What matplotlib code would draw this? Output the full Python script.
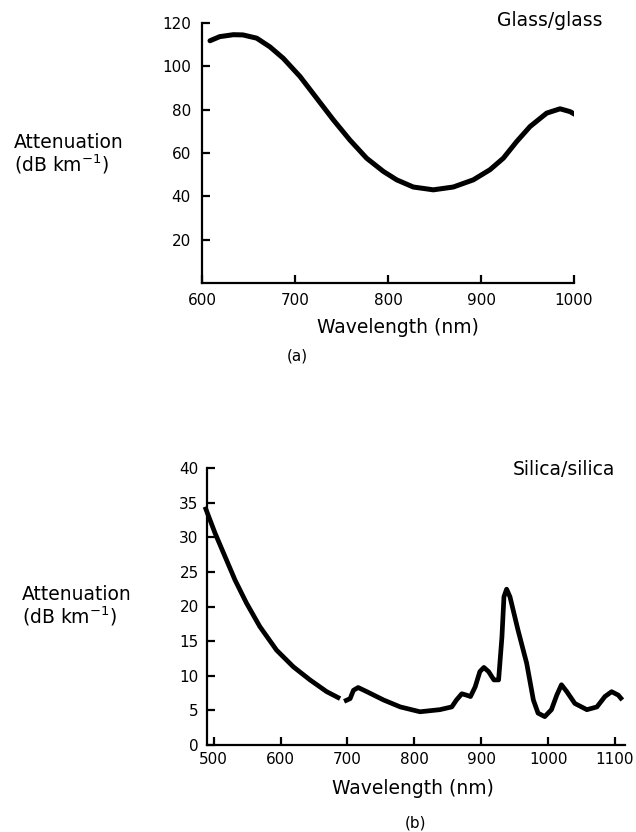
import matplotlib
matplotlib.use("Agg")
import matplotlib.pyplot as plt

W, H = 636, 832

# ---------------- data ----------------
# Panel (a): Glass/glass fibre
glass_wl = [608.6, 619, 633.7, 644, 658.8, 673, 687.4, 705.4, 723.3, 741.2, 759,
            777, 795, 809.4, 827.2, 848.7, 870.2, 891.7, 909.7, 924, 938.4,
            952.7, 970.6, 985, 995.7, 1002]
glass_att = [111.8, 113.7, 114.6, 114.5, 113, 109, 103.7, 95.3, 85.3, 75.3, 66,
             57.6, 51.5, 47.6, 44.3, 43, 44.3, 47.6, 52.3, 57.6, 65.3,
             72.2, 78.4, 80.4, 79.1, 77.6]
glass_xticks = [600, 700, 800, 900, 1000]
glass_yticks = [20, 40, 60, 80, 100, 120]

# Panel (b): Silica/silica fibre (two segments, small gap near 690 nm)
silica_wl_1 = [487, 502, 517, 532, 549, 569, 594, 619, 644, 669, 689]
silica_att_1 = [34.4, 30.6, 27.2, 23.8, 20.5, 17.1, 13.7, 11.3, 9.4, 7.7, 6.7]
silica_wl_2 = [695, 704, 709, 716, 729, 754, 779, 808.5, 838, 856, 863, 871,
               878, 884, 891, 898, 904, 911, 919, 926, 931, 934, 938, 943, 955,
               968, 978, 985, 995, 1005, 1013, 1020, 1028, 1040, 1058, 1073,
               1085, 1095, 1105, 1111]
silica_att_2 = [6.3, 6.7, 7.9, 8.3, 7.7, 6.5, 5.5, 4.8, 5.1, 5.5, 6.5, 7.4,
                7.2, 7.0, 8.4, 10.6, 11.2, 10.6, 9.4, 9.4, 15.6, 21.4, 22.5, 21.4,
                16.6, 11.8, 6.5, 4.6, 4.1, 5.1, 7.2, 8.7, 7.7, 6.0, 5.1, 5.5,
                7.0, 7.7, 7.2, 6.5]
silica_xticks = [500, 600, 700, 800, 900, 1000, 1100]
silica_yticks = [0, 5, 10, 15, 20, 25, 30, 35, 40]

# ---------------- figure ----------------
plt.rcParams['font.family'] = ['DejaVu Sans']
fig = plt.figure(figsize=(W / 100, H / 100), dpi=100)


def rect(x0, y0, x1, y1):
    return [x0 / W, 1 - y1 / H, (x1 - x0) / W, (y1 - y0) / H]


def fx(x):
    return x / W


def fy(y):
    return 1 - y / H


def style(ax, xpad, ypad):
    for s in ['top', 'right']:
        ax.spines[s].set_visible(False)
    for s in ['left', 'bottom']:
        ax.spines[s].set_linewidth(1.6)
        ax.spines[s].set_color('black')
    ax.tick_params(direction='in', length=6, width=1.6, labelsize=11,
                   colors='black')
    ax.tick_params(axis='x', pad=xpad)
    ax.tick_params(axis='y', pad=ypad)
    ax.patch.set_alpha(0)


LABEL_FS = 13.5

# Panel (a)
axa = fig.add_axes(rect(202, 23, 574, 283))
axa.plot(glass_wl, glass_att, color='black', lw=3.6, solid_capstyle='round',
         solid_joinstyle='round')
axa.set_xlim(600, 1000)
axa.set_ylim(0, 120)
axa.set_xticks(glass_xticks)
axa.set_yticks(glass_yticks)
style(axa, xpad=7, ypad=8)
fig.text(fx(398), fy(328), 'Wavelength (nm)', fontsize=LABEL_FS,
         ha='center', va='center')
fig.text(fx(602), fy(20), 'Glass/glass', ha='right', va='center',
         fontsize=LABEL_FS)

fig.text(fx(14), fy(142), 'Attenuation', fontsize=LABEL_FS, va='center',
         ha='left')
fig.text(fx(14), fy(164), '(dB km$^{-1}$)', fontsize=LABEL_FS, va='center',
         ha='left')
fig.text(fx(297), fy(356), '(a)', fontsize=11, ha='center', va='center')

# Panel (b)
axb = fig.add_axes(rect(207, 468, 625, 745))
axb.plot(silica_wl_1, silica_att_1, color='black', lw=3.4,
         solid_capstyle='butt', solid_joinstyle='round', clip_on=False)
axb.plot(silica_wl_2, silica_att_2, color='black', lw=3.4,
         solid_capstyle='butt', solid_joinstyle='round', clip_on=False)
axb.set_xlim(490, 1115)
axb.set_ylim(0, 40)
axb.set_xticks(silica_xticks)
axb.set_yticks(silica_yticks)
style(axb, xpad=5, ypad=6)
fig.text(fx(413), fy(788), 'Wavelength (nm)', fontsize=LABEL_FS,
         ha='center', va='center')
fig.text(fx(615), fy(469), 'Silica/silica', ha='right', va='center',
         fontsize=LABEL_FS)

fig.text(fx(22), fy(595), 'Attenuation', fontsize=LABEL_FS, va='center',
         ha='left')
fig.text(fx(22), fy(616), '(dB km$^{-1}$)', fontsize=LABEL_FS, va='center',
         ha='left')
fig.text(fx(415), fy(823), '(b)', fontsize=11, ha='center', va='center')

fig.savefig('out.png', dpi=100)
